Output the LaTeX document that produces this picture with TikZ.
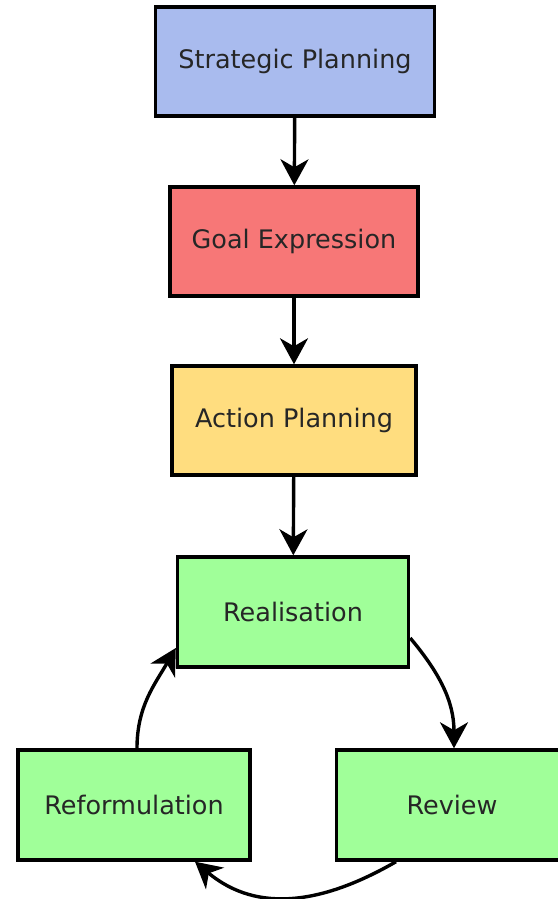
\documentclass[tikz,border=0pt]{standalone}
\usepackage{fontspec}
\setmainfont{DejaVu Sans}
\usetikzlibrary{arrows.meta}

\definecolor{stratblue}{HTML}{A9BBEE}
\definecolor{goalred}{HTML}{F77777}
\definecolor{actyellow}{HTML}{FFDD7F}
\definecolor{cyclegreen}{HTML}{A0FF99}

\begin{document}
\begin{tikzpicture}[
    x=1pt, y=1pt,
    stage/.style={rectangle, draw, line width=3.4pt, minimum height=109pt, inner sep=0pt, text=black!85, font=\fontsize{25.5}{30}\selectfont}, % caixas
    flow/.style={-{Stealth[length=26pt, width=28pt, inset=8pt]}, line width=3.4pt} % setas
    ]
    \useasboundingbox (0,0) rectangle (557,899);
    \node[stage, fill=stratblue, minimum width=279pt] (strat) at (295,837.5) {Strategic Planning};
    \node[stage, fill=goalred, minimum width=248pt] (goal) at (294,657.5) {Goal Expression};
    \node[stage, fill=actyellow, minimum width=244pt] (action) at (294,478.5) {Action Planning};
    \node[stage, fill=cyclegreen, minimum width=231pt, minimum height=110pt] (real) at (293,287) {Realisation};
    \node[stage, fill=cyclegreen, minimum width=232pt, minimum height=110pt] (reform) at (134,94) {Reformulation};
    \node[stage, fill=cyclegreen, minimum width=231pt, minimum height=110pt] (review) at (452,94) {Review};

    \draw[flow] (strat) -- (goal);
    \draw[flow] (goal) -- (action);
    \draw[flow] (action) -- (real);
    % ciclo
    \draw[flow] ([yshift=-26pt]real.east) to[out=-50, in=90] ([xshift=2pt]review.north);
    \draw[flow] ([xshift=-56pt]review.south) to[out=-150, in=-40, looseness=1.05] ([xshift=61pt]reform.south);
    \draw[flow] ([xshift=3pt]reform.north) to[out=90, in=-120] ([yshift=-36pt]real.west);
\end{tikzpicture}
\end{document}
